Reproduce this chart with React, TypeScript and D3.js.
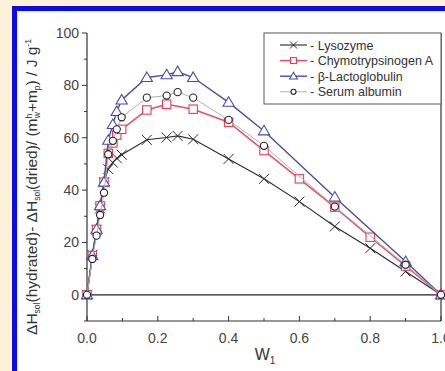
import React from "react";
import * as d3 from "d3";

const xTicks = [0, 0.2, 0.4, 0.6, 0.8, 1.0];
const yTicks = [0, 20, 40, 60, 80, 100];

const lysoX = [0, 0.015, 0.027, 0.037, 0.048, 0.06, 0.073, 0.084, 0.098, 0.169, 0.225, 0.256, 0.3, 0.4, 0.5, 0.6, 0.7, 0.8, 0.9, 1.0];
const lysoY = [0, 15.3, 24.8, 33, 43, 48, 50.5, 52.2, 53.5, 59.2, 60.1, 60.7, 59.4, 51.9, 44.3, 35.6, 26.1, 17.8, 8.9, 0];

const chymoX = [0, 0.015, 0.027, 0.037, 0.048, 0.06, 0.073, 0.084, 0.098, 0.169, 0.225, 0.3, 0.4, 0.5, 0.6, 0.7, 0.8, 0.9, 1.0];
const chymoY = [0, 15, 25, 34, 43, 54, 58, 61, 63.2, 70.6, 72.8, 70.9, 65.9, 55.1, 44.3, 33.5, 22, 11, 0];

const lactoX = [0, 0.015, 0.027, 0.037, 0.048, 0.06, 0.073, 0.084, 0.098, 0.169, 0.225, 0.256, 0.3, 0.4, 0.5, 0.7, 0.9, 1.0];
const lactoY = [0, 15, 25, 34, 43, 59, 65, 70, 74.4, 83, 84, 85.2, 83, 73.5, 62.6, 37.3, 12.7, 0];

const serumX = [0, 0.015, 0.027, 0.037, 0.048, 0.06, 0.073, 0.084, 0.098, 0.169, 0.225, 0.256, 0.3, 0.4, 0.5, 0.7, 0.9, 1.0];
const serumY = [0, 13.7, 22.6, 30.5, 39, 53.7, 58.8, 63.2, 67.8, 75.3, 76.1, 77.4, 75.3, 66.8, 56.9, 33.7, 11.5, 0];

const seriesNames = ["Lysozyme", "Chymotrypsinogen A", "\u03b2-Lactoglobulin", "Serum albumin"];

export default function App() {
  const W = 445, H = 371;
  const x = d3.scaleLinear().domain([0, 1]).range([87, 441]);
  const y = d3.scaleLinear().domain([-10, 100]).range([321, 33]);

  const series = [
    { name: seriesNames[0], xs: lysoX, ys: lysoY, color: "#2a2a2a", lw: 1.1, marker: "x", mcolor: "#2a2a2a" },
    { name: seriesNames[1], xs: chymoX, ys: chymoY, color: "#e8506a", lw: 1.5, marker: "square", mcolor: "#e0405a" },
    { name: seriesNames[2], xs: lactoX, ys: lactoY, color: "#4c4ca6", lw: 1.4, marker: "triangle", mcolor: "#4c4ca6" },
    { name: seriesNames[3], xs: serumX, ys: serumY, color: "#a8b8a8", lw: 1, marker: "circle", mcolor: "#222" },
  ];

  const line = d3.line<[number, number]>().x(d => x(d[0])).y(d => y(d[1]));

  const marker = (type: string, cx: number, cy: number, col: string, key: string, k = 1) => {
    if (type === "x") {
      const s = 5 * k;
      return <path key={key} d={`M${cx - s},${cy - s}L${cx + s},${cy + s}M${cx - s},${cy + s}L${cx + s},${cy - s}`} stroke={col} strokeWidth={1} fill="none" />;
    }
    if (type === "square") {
      const s = 4.2 * k;
      return <rect key={key} x={cx - s} y={cy - s} width={2 * s} height={2 * s} fill="white" stroke={col} strokeWidth={1.1} />;
    }
    if (type === "triangle") {
      const s = 5.6 * k;
      return <path key={key} d={`M${cx},${cy - s}L${cx + s},${cy + s * 0.7}L${cx - s},${cy + s * 0.7}Z`} fill="white" stroke={col} strokeWidth={1.1} />;
    }
    return <circle key={key} cx={cx} cy={cy} r={3.6 * k} fill="white" stroke={col} strokeWidth={1.1} />;
  };

  const minorX = d3.range(0, 1.001, 0.1);
  const minorY = d3.range(-10, 100.1, 10);
  const font = "Liberation Sans, Arial, sans-serif";

  return (
    <svg width={W} height={H} style={{ position: "absolute", left: 0, top: 0 }}>
      <rect x={0} y={0} width={W} height={H} fill="#fdf2d9" />
      <rect x={12} y={6} width={W} height={H} fill="#0a0af0" />
      <rect x={17} y={11} width={W} height={H} fill="#ffffff" />

      {/* axes */}
      <line x1={87} x2={87} y1={y(100)} y2={y(-10)} stroke="#333" strokeWidth={1.2} />
      <line x1={87} x2={441} y1={y(-10)} y2={y(-10)} stroke="#333" strokeWidth={1.2} />
      <line x1={441} x2={441} y1={y(100)} y2={y(-10)} stroke="#333" strokeWidth={1.2} />
      <line x1={87} x2={441} y1={y(0)} y2={y(0)} stroke="#222" strokeWidth={1.3} />

      {minorY.map(v => (
        <line key={"my" + v} x1={87 - (Math.round(v) % 20 === 0 ? 5 : 3)} x2={87} y1={y(v)} y2={y(v)} stroke="#333" strokeWidth={1} />
      ))}
      {minorX.map(v => (
        <line key={"mx" + v} x1={x(v)} x2={x(v)} y1={y(-10)} y2={y(-10) - (Math.round(v * 10) % 2 === 0 ? 5 : 3)} stroke="#333" strokeWidth={1} />
      ))}
      {yTicks.map(v => (
        <text key={"yt" + v} x={79} y={y(v) + 5} textAnchor="end" fontFamily={font} fontSize={14} fill="#444">{v}</text>
      ))}
      {xTicks.map(v => (
        <text key={"xt" + v} x={x(v)} y={343} textAnchor="middle" fontFamily={font} fontSize={14} fill="#444">{v.toFixed(1)}</text>
      ))}

      {/* series */}
      {series.map(s => (
        <g key={s.name}>
          <path d={line(s.xs.map((v, i) => [v, s.ys[i]] as [number, number])) || ""} fill="none" stroke={s.color} strokeWidth={s.lw} />
          {s.xs.map((v, i) => marker(s.marker, x(v), y(s.ys[i]), s.mcolor, s.name + i))}
        </g>
      ))}

      {/* legend */}
      <rect x={264} y={33} width={177} height={71} fill="white" stroke="#555" strokeWidth={1} />
      {series.map((s, i) => {
        const ly = 45 + i * 15.6;
        return (
          <g key={"lg" + i}>
            <line x1={280} x2={307} y1={ly} y2={ly} stroke={s.color} strokeWidth={s.lw} />
            {marker(s.marker, 293.5, ly, s.mcolor, "lm" + i, 0.7)}
            <text x={310} y={ly + 4.5} fontFamily={font} fontSize={12.5} fill="#333">- {s.name}</text>
          </g>
        );
      })}

      {/* axis titles */}
      <text x={265} y={360} textAnchor="middle" fontFamily={font} fontSize={16} fill="#333">
        W<tspan fontSize={10} dy={4}>1</tspan>
      </text>
      <text transform="translate(37,187) rotate(-90)" textAnchor="middle" fontFamily={font} fontSize={15.5} fill="#333">
        ΔH<tspan fontSize={8.5} dy={3}>sol</tspan><tspan dy={-3}>(hydrated)- ΔH</tspan><tspan fontSize={8.5} dy={3}>sol</tspan><tspan dy={-3}>(dried)/ (m</tspan><tspan fontSize={8.5} dy={-5}>h</tspan><tspan fontSize={8.5} dx={-4.5} dy={8}>w</tspan><tspan dy={-3}>+m</tspan><tspan fontSize={8.5} dy={3}>p</tspan><tspan dy={-3}>) / J g</tspan><tspan fontSize={8.5} dy={-6}>-1</tspan>
      </text>
    </svg>
  );
}
